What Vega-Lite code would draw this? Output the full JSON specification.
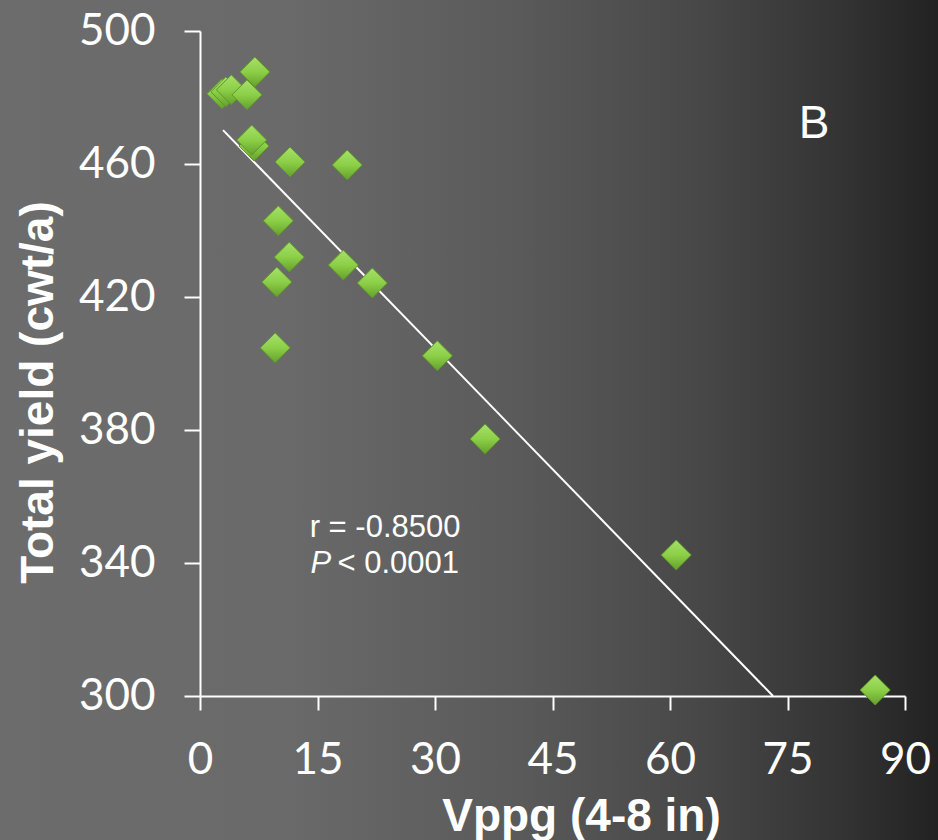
{
  "$schema": "https://vega.github.io/schema/vega-lite/v6.json",
  "width": 938,
  "height": 840,
  "autosize": "none",
  "padding": 0,
  "background": "#555555",
  "view": {
    "stroke": null,
    "fill": {
      "gradient": "linear",
      "x1": 0, "y1": 0, "x2": 1, "y2": 0,
      "stops": [
        {"offset": 0, "color": "#6c6c6c"},
        {"offset": 0.3, "color": "#6a6a6a"},
        {"offset": 0.55, "color": "#5a5a5a"},
        {"offset": 0.75, "color": "#474747"},
        {"offset": 0.9, "color": "#333333"},
        {"offset": 1, "color": "#222222"}
      ]
    }
  },
  "config": {
    "axis": {
      "grid": false,
      "domainColor": "#ffffff",
      "domainWidth": 2,
      "tickColor": "#ffffff",
      "tickWidth": 2,
      "labelColor": "#ffffff",
      "labelFont": "Lato",
      "labelFontSize": 44,
      "labelFlush": false,
      "labelOverlap": false,
      "titleColor": "#ffffff",
      "titleFont": "Liberation Sans",
      "titleFontWeight": "bold",
      "titleFontSize": 46
    }
  },
  "layer": [
    {
      "data": {"values": [
        {"vppg": 2.94, "yield": 470.2},
        {"vppg": 73.15, "yield": 300}
      ]},
      "mark": {"type": "line", "color": "#ffffff", "strokeWidth": 2},
      "encoding": {
        "x": {
          "field": "vppg", "type": "quantitative",
          "scale": {"domain": [0, 90], "range": [200, 905], "nice": false, "zero": false},
          "axis": {
            "orient": "bottom", "offset": -144,
            "values": [0, 15, 30, 45, 60, 75, 90],
            "tickSize": 14, "labelPadding": 28,
            "title": "Vppg (4-8 in)",
            "titleX": 581, "titleY": 134, "titleBaseline": "alphabetic", "titleAlign": "center", "titleAnchor": null
          }
        },
        "y": {
          "field": "yield", "type": "quantitative",
          "scale": {"domain": [300, 500], "range": [696, 31], "nice": false, "zero": false},
          "axis": {
            "orient": "left", "offset": -200,
            "values": [300, 340, 380, 420, 460, 500],
            "tickSize": 16, "labelPadding": 29,
            "title": "Total yield (cwt/a)",
            "titleX": -148, "titleY": 392, "titleAngle": 270, "titleBaseline": "alphabetic", "titleAlign": "center", "titleAnchor": null
          }
        }
      }
    },
    {
      "data": {"values": [
        {"vppg": 2.8, "yield": 481.1},
        {"vppg": 3.3, "yield": 481.7},
        {"vppg": 4.0, "yield": 482.3},
        {"vppg": 6.0, "yield": 480.8},
        {"vppg": 7.0, "yield": 487.7},
        {"vppg": 6.9, "yield": 465.4},
        {"vppg": 6.6, "yield": 467.2},
        {"vppg": 11.5, "yield": 460.6},
        {"vppg": 18.8, "yield": 459.7},
        {"vppg": 10.0, "yield": 442.9},
        {"vppg": 11.4, "yield": 432.0},
        {"vppg": 9.8, "yield": 424.5},
        {"vppg": 18.3, "yield": 429.6},
        {"vppg": 22.0, "yield": 424.2},
        {"vppg": 9.6, "yield": 404.7},
        {"vppg": 30.3, "yield": 402.3},
        {"vppg": 36.4, "yield": 377.3},
        {"vppg": 60.8, "yield": 342.4},
        {"vppg": 86.2, "yield": 301.8}
      ]},
      "mark": {
        "type": "point", "shape": "diamond", "size": 900, "filled": true, "opacity": 1,
        "fill": {
          "gradient": "linear", "x1": 0, "y1": 0, "x2": 0, "y2": 1,
          "stops": [
            {"offset": 0, "color": "#a6e06a"},
            {"offset": 0.5, "color": "#8ccf47"},
            {"offset": 1, "color": "#64a02c"}
          ]
        },
        "stroke": "#5e9628", "strokeWidth": 1
      },
      "encoding": {
        "x": {"field": "vppg", "type": "quantitative"},
        "y": {"field": "yield", "type": "quantitative"}
      }
    },
    {
      "data": {"values": [
        {"vppg": 14.0, "yield": 347.8, "label": "r = -0.8500"},
        {"vppg": 17.55, "yield": 337.0, "label": "< 0.0001"}
      ]},
      "mark": {"type": "text", "font": "Liberation Sans", "fontSize": 31, "color": "#ffffff", "align": "left", "baseline": "alphabetic"},
      "encoding": {
        "x": {"field": "vppg", "type": "quantitative"},
        "y": {"field": "yield", "type": "quantitative"},
        "text": {"field": "label"}
      }
    },
    {
      "data": {"values": [
        {"vppg": 14.1, "yield": 337.0, "label": "P"}
      ]},
      "mark": {"type": "text", "font": "Liberation Sans", "fontSize": 31, "fontStyle": "italic", "color": "#ffffff", "align": "left", "baseline": "alphabetic"},
      "encoding": {
        "x": {"field": "vppg", "type": "quantitative"},
        "y": {"field": "yield", "type": "quantitative"},
        "text": {"field": "label"}
      }
    },
    {
      "data": {"values": [
        {"vppg": 78.4, "yield": 467.8, "label": "B"}
      ]},
      "mark": {"type": "text", "font": "Liberation Sans", "fontSize": 46, "color": "#ffffff", "align": "center", "baseline": "alphabetic"},
      "encoding": {
        "x": {"field": "vppg", "type": "quantitative"},
        "y": {"field": "yield", "type": "quantitative"},
        "text": {"field": "label"}
      }
    }
  ]
}
